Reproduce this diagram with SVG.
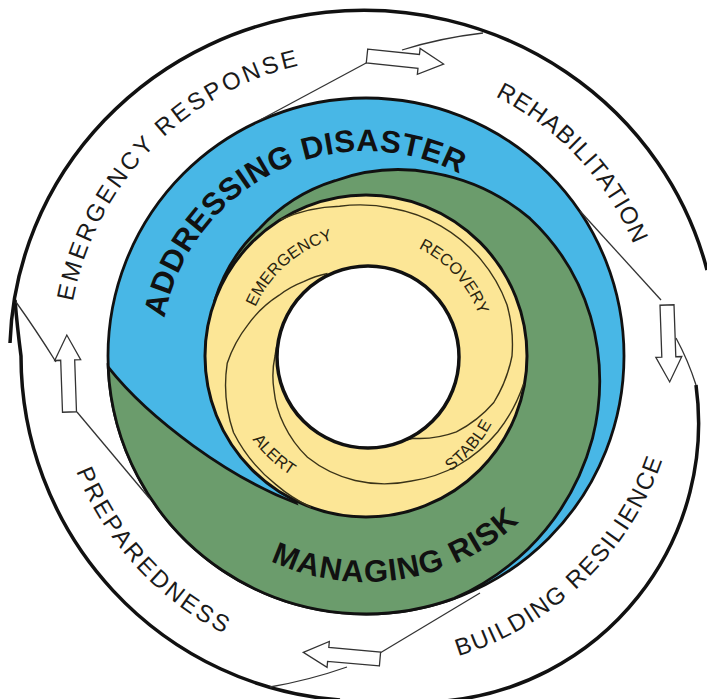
<svg xmlns="http://www.w3.org/2000/svg" xmlns:xlink="http://www.w3.org/1999/xlink" width="707" height="699" viewBox="0 0 707 699">
<style>
.outer{fill:none;stroke:#111;stroke-width:3.5}
.thin{fill:none;stroke:#333;stroke-width:1.3}
.arrow{fill:#fff;stroke:#333;stroke-width:1.3}
.lab{font-family:"Liberation Sans",Arial,sans-serif;font-size:24px;fill:#1a1a1a}
.big{font-family:"Liberation Sans",Arial,sans-serif;font-size:31px;font-weight:bold;fill:#111}
.small{font-family:"Liberation Sans",Arial,sans-serif;font-size:16.5px;fill:#2a2410}
.ln{fill:none;stroke:#3a3318;stroke-width:1.4}
.edge{stroke:#111;stroke-width:2.8}
</style>
<defs>
<path id="arw" d="M0,-7 H52 V-13 L77,0 L52,13 V7 H0 Z"/>
<path id="pER" d="M69.6,324.9 A298,298 0 0 1 324.5,60.9"/>
<path id="pRH" d="M474.6,87.1 A290,290 0 0 1 641.8,266.4"/>
<path id="pBR" d="M436.7,662 A314,314 0 0 0 669.3,437.3"/>
<path id="pPR" d="M66.9,444.6 A312,312 0 0 0 251.7,646.3"/>
<path id="pAD" d="M162.1,334.6 A205,205 0 0 1 474.6,182.2"/>
<path id="pMR" d="M253,551.7 A226,226 0 0 0 533.9,507.2"/>
<path id="pEM" d="M251.6,316.6 A121,121 0 0 1 342.9,237.2"/>
<path id="pRC" d="M409,244 A120,120 0 0 1 481.9,324.9"/>
<path id="pST" d="M439.6,478.6 A143,143 0 0 0 497.6,411.9"/>
<path id="pAL" d="M245.1,428.6 A141,141 0 0 0 302,481.6"/>
</defs>
<rect width="707" height="699" fill="#fff"/>

<g id="outer-ring">
<path class="outer" d="M10,343 A354,344 0 0 1 707,270"/>
<path class="outer" d="M340,700 A345,345 0 0 1 21,356 Q17,325 15,300"/>
<path class="outer" d="M696,385 A279,279 0 0 1 445,701"/>
</g>

<g id="addressing-disaster">
<circle cx="366" cy="356" r="258" fill="#48b7e6" class="edge"/>
</g>

<g id="managing-risk">
<path fill="#6b9c6c" class="edge" d="M214.7,300.9 A163,163 0 0 1 259.3,228.8 A172,172 0 0 1 335.1,180.7 A186,186 0 0 1 432.7,172.8 A204,204 0 0 1 529.9,218.4 A220,220 0 0 1 590.5,316.4 A234,234 0 0 1 592.5,438.4 A246,246 0 0 1 528,549 A255,255 0 0 1 454.2,598.4 A258,258 0 0 1 108.2,367.2 C150,420 230,478 296,503 Z"/>
</g>

<g id="cycle">
<circle cx="366" cy="356" r="161" fill="#fce696" stroke="#111" stroke-width="3"/>
<path class="ln" d="M280.7,219.5 A156,156 0 0 1 339.6,206.3 A151,151 0 0 1 392,208.3 A150,150 0 0 1 441,226.1 A150,150 0 0 1 480.9,259.6 A150,150 0 0 1 507,304.7 A148,148 0 0 1 512,356 A140,140 0 0 1 493.8,402.5 A125,125 0 0 1 456.4,431.9 A105,105 0 0 1 413.5,438.3 A93,93 0 0 1 397.1,441.5"/>
<path class="ln" d="M523.6,383.8 A156,156 0 0 1 497.6,432 A148,148 0 0 1 457.9,465.5 A138,138 0 0 1 411.5,481 A129,129 0 0 1 355.1,480.5 A121,121 0 0 1 307.5,457.3 A112,112 0 0 1 284,424.8 A102,102 0 0 1 273.9,389.5 A94,94 0 0 1 275,356 A92,92 0 0 1 277,345"/>
<path class="ln" d="M310.9,507.3 A159,159 0 0 1 276,484.6 A155,155 0 0 1 233.5,432.5 A146,146 0 0 1 227.2,363.3 A130,130 0 0 1 248.2,324.4 A114,114 0 0 1 279.2,295.2 A101,101 0 0 1 303.6,281.7 A94,94 0 0 1 327.5,273.5"/>
<circle cx="368" cy="357" r="91" fill="#fff" stroke="#111" stroke-width="3.5"/>
</g>

<g id="connectors">
<path class="thin" d="M260,120 L368,62"/>
<path class="thin" d="M402,50 Q440,38 483,33"/>
<path class="thin" d="M580,211 L661,300"/>
<path class="thin" d="M676,338 Q688,360 696,385"/>
<path class="thin" d="M480,593 L380,653"/>
<path class="thin" d="M347,667 Q310,680 270,687"/>
<path class="thin" d="M150,499 L77,412"/>
<path class="thin" d="M56,362 Q36,330 16,302"/>
<use xlink:href="#arw" class="arrow" transform="translate(367,56) rotate(6)"/>
<use xlink:href="#arw" class="arrow" transform="translate(667,305) rotate(88)"/>
<use xlink:href="#arw" class="arrow" transform="translate(380,659) rotate(185)"/>
<use xlink:href="#arw" class="arrow" transform="translate(69.5,412) rotate(268)"/>
</g>

<g id="labels">
<text class="lab" letter-spacing="3"><textPath xlink:href="#pER" startOffset="50%" text-anchor="middle">EMERGENCY RESPONSE</textPath></text>
<text class="lab" letter-spacing="1"><textPath xlink:href="#pRH" startOffset="50%" text-anchor="middle">REHABILITATION</textPath></text>
<text class="lab" letter-spacing="1.7"><textPath xlink:href="#pBR" startOffset="50%" text-anchor="middle">BUILDING RESILIENCE</textPath></text>
<text class="lab" letter-spacing="2.6"><textPath xlink:href="#pPR" startOffset="50%" text-anchor="middle">PREPAREDNESS</textPath></text>
<text class="big" letter-spacing="0.5"><textPath xlink:href="#pAD" startOffset="50%" text-anchor="middle">ADDRESSING DISASTER</textPath></text>
<text class="big" letter-spacing="1"><textPath xlink:href="#pMR" startOffset="50%" text-anchor="middle">MANAGING RISK</textPath></text>
<text class="small"><textPath xlink:href="#pEM" startOffset="50%" text-anchor="middle">EMERGENCY</textPath></text>
<text class="small"><textPath xlink:href="#pRC" startOffset="50%" text-anchor="middle">RECOVERY</textPath></text>
<text class="small" letter-spacing="0.3"><textPath xlink:href="#pST" startOffset="50%" text-anchor="middle">STABLE</textPath></text>
<text class="small"><textPath xlink:href="#pAL" startOffset="50%" text-anchor="middle">ALERT</textPath></text>
</g>
</svg>
